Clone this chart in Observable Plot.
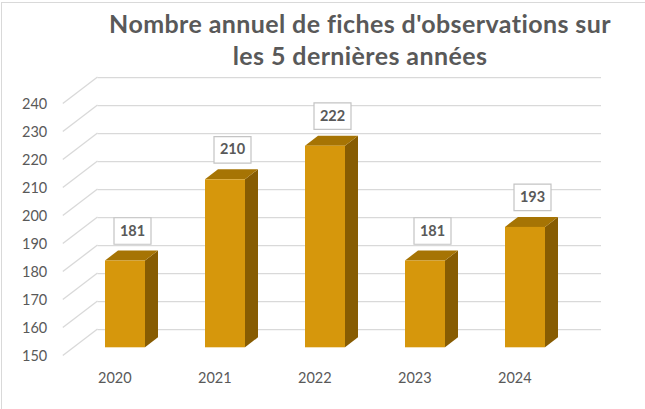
<!DOCTYPE html>
<html>
<head>
<meta charset="utf-8">
<script src="https://cdn.jsdelivr.net/npm/d3@7"></script>
<script src="https://cdn.jsdelivr.net/npm/@observablehq/plot@0.6"></script>
<style>
html, body { margin: 0; padding: 0; background: #fff; }
#chart { position: relative; width: 645px; height: 409px; overflow: hidden; }
#frame { position: absolute; left: 1px; top: 2px; width: 700px; height: 500px;
  border-top: 1px solid #d9d9d9; border-left: 1px solid #d9d9d9; pointer-events: none; }
#title { box-sizing: border-box; width: 645px; height: 72px; padding-left: 75px; padding-top: 7.3px;
  text-align: center; font: 700 25px/32px Lato, sans-serif; letter-spacing: 0.4px; color: #595959; white-space: nowrap; }
svg { display: block; }
</style>
</head>
<body>
<div id="chart">
  <div id="title">Nombre annuel de fiches d'observations sur<br>les 5 dernières années</div>
  <div id="frame"></div>
</div>
<script>
// ---- data ----
const years = ["2020", "2021", "2022", "2023", "2024"];
const counts = [181, 210, 222, 181, 193];
const yTicks = [150, 160, 170, 180, 190, 200, 210, 220, 230, 240];
const yDomain = [150, 240];

const data = years.map((year, i) => ({year, count: counts[i]}));

// ---- style ----
const frontColor = "#D6970C";
const topColor = "#A67404";
const sideColor = "#875C02";
const gridColor = "#d9d9d9";
const textColor = "#595959";
// pseudo-3D offsets (pixels)
const FRONT = [-10.7, 8.1];   // bar plane -> front edge of floor
const BACK = [24, -18.2];     // bar plane -> back wall
const DEPTH = [13, -10];      // bar depth

function diagonals(index, scales, values, dims) {
  const g = d3.create("svg:g").attr("stroke", gridColor).attr("stroke-width", 1.3).attr("fill", "none");
  const x = dims.marginLeft;
  for (const t of yTicks) {
    const y = scales.y(t);
    g.append("line")
      .attr("x1", x + FRONT[0]).attr("y1", y + FRONT[1])
      .attr("x2", x + BACK[0]).attr("y2", y + BACK[1]);
  }
  return g.node();
}

function barFaces(index, scales) {
  const {x, y} = scales;
  const bw = x.bandwidth ? x.bandwidth() : scales.scales.x.bandwidth;
  const g = d3.create("svg:g");
  data.forEach(d => {
    const x0 = x(d.year), x1 = x0 + bw, top = y(d.count), bot = y(yDomain[0]);
    g.append("path").attr("fill", sideColor)
      .attr("d", `M${x1},${top}L${x1 + DEPTH[0]},${top + DEPTH[1]}L${x1 + DEPTH[0]},${bot + DEPTH[1]}L${x1},${bot}Z`);
    g.append("path").attr("fill", topColor)
      .attr("d", `M${x0},${top}L${x0 + DEPTH[0]},${top + DEPTH[1]}L${x1 + DEPTH[0]},${top + DEPTH[1]}L${x1},${top}Z`);
  });
  return g.node();
}

const boxSymbol = {
  draw(ctx) {
    const w = 18.5, h = 13.25;
    ctx.moveTo(-w, -h); ctx.lineTo(w, -h); ctx.lineTo(w, h); ctx.lineTo(-w, h); ctx.closePath();
  }
};

const LABEL_DX = 7, LABEL_DY = -30;

const chart = Plot.plot({
  width: 645,
  height: 337,
  marginTop: 23.3,
  marginBottom: 61.7,
  marginLeft: 73.5,
  marginRight: 68,
  style: {fontFamily: "Lato, sans-serif", fontSize: "14.5px", color: textColor, background: "transparent", overflow: "visible"},
  x: {domain: years, paddingInner: 0.6, paddingOuter: 0.3, label: null},
  y: {domain: yDomain, label: null},
  marks: [
    Plot.ruleY(yTicks, {dx: BACK[0], dy: BACK[1], stroke: gridColor, strokeWidth: 1.3}),
    diagonals,
    Plot.axisY({ticks: yTicks, tickSize: 0, tickPadding: 26.8, dy: FRONT[1], label: null, fill: textColor}),
    Plot.axisX({tickSize: 0, tickPadding: 25.4, dx: FRONT[0], label: null, fill: textColor}),
    barFaces,
    Plot.barY(data, {x: "year", y1: yDomain[0], y2: "count", fill: frontColor}),
    Plot.dot(data, {x: "year", y: "count", dx: LABEL_DX, dy: LABEL_DY, symbol: boxSymbol, fill: "white", stroke: "#c4c4c4", strokeWidth: 1.2}),
    Plot.text(data, {x: "year", y: "count", text: d => String(d.count), dx: LABEL_DX, dy: LABEL_DY,
      fontWeight: "bold", fill: textColor, fontSize: 14.5})
  ]
});

document.getElementById("chart").insertBefore(chart, document.getElementById("frame"));
</script>
</body>
</html>
